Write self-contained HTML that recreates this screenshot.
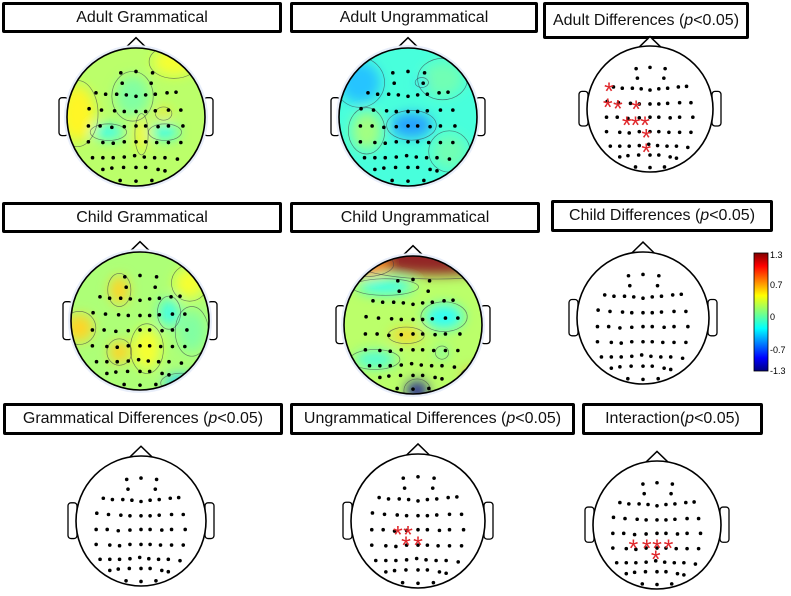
<!DOCTYPE html>
<html><head><meta charset="utf-8">
<style>
html,body{margin:0;padding:0;background:#fff;}
body{width:791px;height:596px;position:relative;overflow:hidden;font-family:"Liberation Sans",sans-serif;}
.tbox{position:absolute;box-sizing:border-box;border:3px solid #000;border-radius:2px;background:#fff;font-size:16px;line-height:25px;text-align:center;white-space:nowrap;color:#111;}
svg{position:absolute;left:0;top:0;}
.cb{position:absolute;font-size:9px;color:#000;}
</style></head><body>
<div class="tbox" style="left:2px;top:2px;width:280px;height:31px;">Adult Grammatical</div>
<div class="tbox" style="left:290px;top:2px;width:248px;height:31px;">Adult Ungrammatical</div>
<div class="tbox" style="left:543px;top:2px;width:206px;height:37px;line-height:31px;">Adult Differences (<i>p</i>&lt;0.05)</div>
<div class="tbox" style="left:2px;top:202px;width:280px;height:31px;">Child Grammatical</div>
<div class="tbox" style="left:290px;top:202px;width:250px;height:31px;">Child Ungrammatical</div>
<div class="tbox" style="left:551px;top:200px;width:222px;height:32px;">Child Differences (<i>p</i>&lt;0.05)</div>
<div class="tbox" style="left:3px;top:403px;width:280px;height:32px;">Grammatical Differences (<i>p</i>&lt;0.05)</div>
<div class="tbox" style="left:290px;top:403px;width:285px;height:32px;">Ungrammatical Differences (<i>p</i>&lt;0.05)</div>
<div class="tbox" style="left:582px;top:403px;width:181px;height:32px;">Interaction(<i>p</i>&lt;0.05)</div>

<svg id="fig" width="791" height="596">
<defs>
<filter id="blur" x="-50%" y="-50%" width="200%" height="200%"><feGaussianBlur stdDeviation="6"/></filter>
<linearGradient id="jet" x1="0" y1="1" x2="0" y2="0">
<stop offset="0" stop-color="#00007f"/><stop offset="0.11" stop-color="#0000ff"/><stop offset="0.36" stop-color="#00ffff"/><stop offset="0.5" stop-color="#7fff7f"/><stop offset="0.64" stop-color="#ffff00"/><stop offset="0.89" stop-color="#ff0000"/><stop offset="1" stop-color="#7f0000"/>
</linearGradient>
</defs>
</svg>
<div class="cb" style="left:770px;top:250px;">1.3</div>
<div class="cb" style="left:770px;top:280px;">0.7</div>
<div class="cb" style="left:770px;top:312px;">0</div>
<div class="cb" style="left:770px;top:345px;">-0.7</div>
<div class="cb" style="left:770px;top:366px;">-1.3</div>

<script>
// electrode layout (normalized head coords)
const elecX = [-0.22,0,0.24, -0.2,0.22,
 -0.58,-0.44,-0.28,-0.14,0,0.14,0.28,0.45,0.58,
 -0.68,-0.5,-0.31,-0.17,0,0.14,0.28,0.47,0.65,
 -0.69,-0.52,-0.35,-0.17,0,0.14,0.32,0.47,0.68,
 -0.69,-0.48,-0.33,-0.17,0,0.14,0.3,0.47,0.65,
 -0.63,-0.48,-0.33,-0.17,-0.02,0.12,0.27,0.42,0.6,
 -0.48,-0.35,-0.18,0,0.14,0.32,0.42,
 -0.23,0,0.23];
const elecY = [-0.64,-0.66,-0.64, -0.49,-0.49,
 -0.35,-0.33,-0.33,-0.32,-0.3,-0.32,-0.33,-0.35,-0.36,
 -0.12,-0.1,-0.09,-0.08,-0.08,-0.08,-0.09,-0.1,-0.1,
 0.13,0.13,0.15,0.14,0.13,0.13,0.14,0.13,0.13,
 0.36,0.37,0.38,0.36,0.36,0.36,0.37,0.37,0.37,
 0.59,0.59,0.59,0.58,0.56,0.58,0.59,0.59,0.61,
 0.76,0.74,0.73,0.73,0.73,0.76,0.78,
 0.92,0.93,0.92];
// heads: [cx, cy, r]; blobs: [x, y, rx, ry, value]
const heads = [
 {name:'adult-grammatical', c:[136,117,69], base:0.12,
  blobs:[[-0.4,0.22,0.22,0.1,-0.3],[0.42,0.22,0.2,0.1,-0.3],[-0.05,-0.3,0.25,0.3,-0.05],[-0.85,-0.05,0.25,0.4,0.35],[0.55,-0.8,0.3,0.2,0.3],[0.08,0.25,0.08,0.25,0.35],[0.4,-0.05,0.1,0.08,0.4]]},
 {name:'adult-ungrammatical', c:[408,117,69], base:-0.22,
  blobs:[[-0.7,-0.5,0.3,0.3,-0.5],[0.05,0.12,0.3,0.18,-0.6],[-0.6,0.2,0.22,0.28,0.05],[0.5,-0.55,0.3,0.25,-0.1],[0.6,0.5,0.25,0.25,-0.1],[0.2,-0.5,0.08,0.06,-0.45]]},
 {name:'child-grammatical', c:[140,321,69], base:0.08,
  blobs:[[-0.3,-0.45,0.14,0.2,0.45],[-0.3,0.45,0.15,0.16,0.45],[-0.88,0.1,0.2,0.2,0.45],[0.42,-0.12,0.14,0.2,-0.25],[0.6,0.9,0.25,0.12,-0.45],[0.72,-0.55,0.22,0.22,0.3],[0.75,0.15,0.2,0.3,-0.05],[0.1,0.4,0.2,0.3,0.3]]},
 {name:'child-ungrammatical', c:[413,325,69], base:0.12,
  blobs:[[0.35,-1.05,1.2,0.32,1.3],[-0.7,-0.88,0.35,0.15,0.7],[-0.4,-0.55,0.4,0.1,-0.3],[0.45,-0.12,0.28,0.18,-0.3],[-0.55,0.5,0.3,0.12,-0.22],[-0.1,0.15,0.22,0.1,0.45],[0.06,0.95,0.16,0.14,-1.5],[0.9,0.75,0.18,0.12,0.6],[0.42,0.4,0.08,0.08,-0.15]]}
];
const diffHeads = [
 {name:'adult-differences', c:[650,109,63]},
 {name:'child-differences', c:[643,318,66]},
 {name:'grammatical-differences', c:[141,521,65]},
 {name:'ungrammatical-differences', c:[418,521,67]},
 {name:'interaction', c:[657,525,64]}
];
// significant electrodes (asterisks) per diff head
const sigX = [[-0.65,-0.67,-0.51,-0.22,-0.37,-0.23,-0.08,-0.06,-0.06],[],[],[-0.3,-0.15,-0.18,0],[-0.37,-0.16,0,0.18,-0.02]];
const sigY = [[-0.32,-0.06,-0.04,-0.03,0.22,0.22,0.22,0.42,0.65],[],[],[0.17,0.17,0.33,0.33],[0.33,0.33,0.33,0.33,0.5]];

const NS='http://www.w3.org/2000/svg';
const svg=document.getElementById('fig');
function el(t,a,p){const e=document.createElementNS(NS,t);for(const k in a)e.setAttribute(k,a[k]);(p||svg).appendChild(e);return e;}
function jet(v){let t=(v+1.3)/2.6;t=Math.max(0,Math.min(1,t));
 const c=x=>Math.round(255*Math.max(0,Math.min(1,1.5-Math.abs(x))));
 return 'rgb('+c(4*t-3)+','+c(4*t-2)+','+c(4*t-1)+')';}
function outline(g,cx,cy,r){
 const nose=el('path',{d:`M${cx-r*0.17},${cy-r*0.985} L${cx},${cy-r*1.15} L${cx+r*0.17},${cy-r*0.985}`,fill:'#fff',stroke:'#000','stroke-width':1.5},g);
 
 
 [-1,1].forEach(s=>{const ear=el('rect',{x:s<0?cx-r-8:cx+r-1,y:cy-r*0.28,width:9,height:r*0.55,rx:3,fill:'#fff',stroke:'#000','stroke-width':1.3},g);
 
 });
}
function dots(g,cx,cy,r){
 for(let i=0;i<elecX.length;i++){const d=el('circle',{cx:cx+elecX[i]*r,cy:cy+elecY[i]*r,r:1.8,fill:'#000'},g);
 
 }
}
heads.forEach((h,hi)=>{
 const [cx,cy,r]=h.c;
 const g=el('g',{});
 
 
 outline(g,cx,cy,r);
 el('circle',{cx,cy,r:r+3,fill:'#e8eefa'},g);
 const cp=el('clipPath',{id:'cp'+hi},g);
 el('circle',{cx,cy,r},cp);
 const inner=el('g',{'clip-path':'url(#cp'+hi+')'},g);
 el('rect',{x:cx-r,y:cy-r,width:2*r,height:2*r,fill:jet(h.base)},inner);
 const bg=el('g',{filter:'url(#blur)'},inner);
 h.blobs.forEach(b=>{const e=el('ellipse',{cx:cx+b[0]*r,cy:cy+b[1]*r,rx:b[2]*r,ry:b[3]*r,fill:jet(b[4])},bg);
 
 });
 el('rect',{x:cx-r,y:cy-r,width:2*r,height:2*r,fill:'#fff',opacity:0.15},inner);
 h.blobs.forEach(b=>{el('ellipse',{cx:cx+b[0]*r,cy:cy+b[1]*r,rx:b[2]*r*1.2,ry:b[3]*r*1.2,fill:'none',stroke:'#334','stroke-width':0.7,opacity:0.6},inner);});
 el('circle',{cx,cy,r,fill:'none',stroke:'#000','stroke-width':1.6},g);
 dots(g,cx,cy,r);
});
diffHeads.forEach((h,hi)=>{
 const [cx,cy,r]=h.c;
 const g=el('g',{});
 
 
 outline(g,cx,cy,r);
 el('circle',{cx,cy,r,fill:'#fff',stroke:'#000','stroke-width':1.6},g);
 dots(g,cx,cy,r);
 sigX[hi].forEach((x,i)=>{const t=el('text',{x:cx+x*r,y:cy+sigY[hi][i]*r+11,'text-anchor':'middle','font-size':25,'font-family':'Liberation Sans, sans-serif',fill:'#e0282c'},g);
 t.textContent='*';
 
 });
});
const cb=el('rect',{x:754,y:253,width:14,height:118,fill:'url(#jet)',stroke:'#000','stroke-width':0.8});


</script>
</body></html>
